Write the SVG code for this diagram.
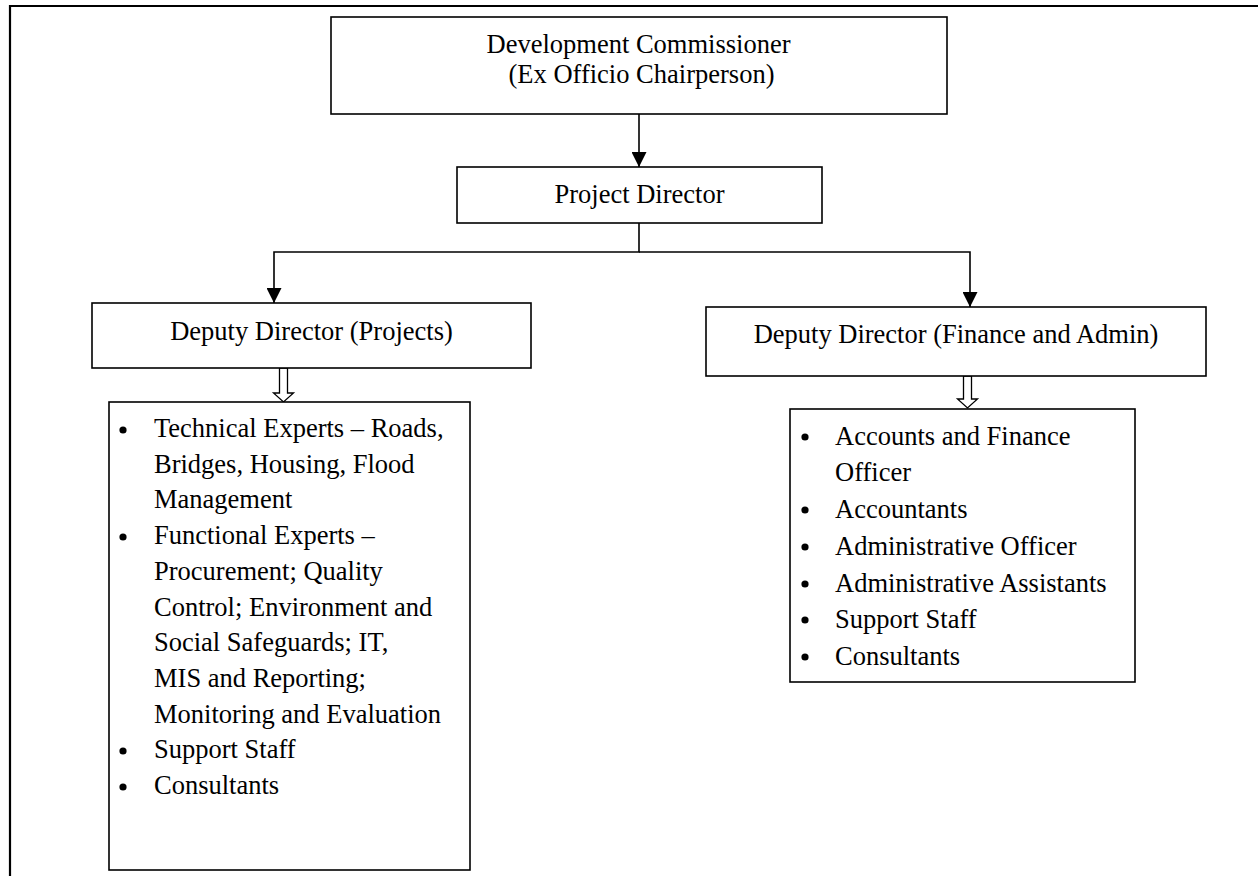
<svg xmlns="http://www.w3.org/2000/svg" width="1258" height="876" viewBox="0 0 1258 876">
<defs>
<style>
.box{fill:#fff;stroke:#000;stroke-width:1.6}
.t{font-family:"Liberation Serif","Times New Roman",serif;font-size:26.5px;fill:#000}
.c{text-anchor:middle}
.ln{fill:none;stroke:#000;stroke-width:1.6}
.ho{fill:#fff;stroke:#000;stroke-width:1.3}
</style>
<marker id="ah" viewBox="0 0 10 10" refX="10" refY="5" markerWidth="15" markerHeight="15" markerUnits="userSpaceOnUse" orient="auto"><path d="M0,0 L10,5 L0,10 z" fill="#000"/></marker>
</defs>
<rect width="1258" height="876" fill="#fff"/>
<g id="frame"><path d="M10,876 V6 H1258" fill="none" stroke="#000" stroke-width="2.2"/></g>
<g id="connectors">
<line class="ln" x1="639" y1="114" x2="639" y2="167" marker-end="url(#ah)"/>
<path class="ln" d="M639,223 V252 H274 V303" marker-end="url(#ah)"/>
<path class="ln" d="M639,252 H970 V307" marker-end="url(#ah)"/>
<path class="ho" d="M279.5,368 V393 H273.5 L283.5,402 L293.5,393 H287.5 V368 Z"/>
<path class="ho" d="M963.5,376 V399 H957.5 L967.5,408 L977.5,399 H971.5 V376 Z"/>
</g>
<g id="dev-commissioner">
<rect class="box" x="331" y="17" width="616" height="97"/>
<text class="t c" x="638.5" y="53">Development Commissioner</text>
<text class="t c" x="641.5" y="83">(Ex Officio Chairperson)</text>
</g>
<g id="project-director">
<rect class="box" x="457" y="167" width="365" height="56"/>
<text class="t c" x="639.5" y="203">Project Director</text>
</g>
<g id="dd-projects">
<rect class="box" x="92" y="303" width="439" height="65"/>
<text class="t c" x="311.5" y="340">Deputy Director (Projects)</text>
</g>
<g id="dd-finance">
<rect class="box" x="706" y="307" width="500" height="69"/>
<text class="t c" x="956" y="343">Deputy Director (Finance and Admin)</text>
</g>
<g id="projects-staff">
<rect class="box" x="109" y="402" width="361" height="468"/>
<g fill="#000">
<circle cx="123" cy="430" r="3.6"/><circle cx="123" cy="537" r="3.6"/><circle cx="123" cy="751" r="3.6"/><circle cx="123" cy="787" r="3.6"/>
</g>
<text class="t" x="154" y="437">Technical Experts – Roads,</text>
<text class="t" x="154" y="473">Bridges, Housing, Flood</text>
<text class="t" x="154" y="508">Management</text>
<text class="t" x="154" y="544">Functional Experts –</text>
<text class="t" x="154" y="580">Procurement; Quality</text>
<text class="t" x="154" y="616">Control; Environment and</text>
<text class="t" x="154" y="651">Social Safeguards; IT,</text>
<text class="t" x="154" y="687">MIS and Reporting;</text>
<text class="t" x="154" y="723">Monitoring and Evaluation</text>
<text class="t" x="154" y="758">Support Staff</text>
<text class="t" x="154" y="794">Consultants</text>
</g>
<g id="finance-staff">
<rect class="box" x="790" y="409" width="345" height="273"/>
<g fill="#000">
<circle cx="805" cy="437" r="3.6"/><circle cx="805" cy="510" r="3.6"/><circle cx="805" cy="547" r="3.6"/><circle cx="805" cy="584" r="3.6"/><circle cx="805" cy="620" r="3.6"/><circle cx="805" cy="657" r="3.6"/>
</g>
<text class="t" x="835" y="445">Accounts and Finance</text>
<text class="t" x="835" y="481">Officer</text>
<text class="t" x="835" y="518">Accountants</text>
<text class="t" x="835" y="555">Administrative Officer</text>
<text class="t" x="835" y="592">Administrative Assistants</text>
<text class="t" x="835" y="628">Support Staff</text>
<text class="t" x="835" y="665">Consultants</text>
</g>
</svg>
